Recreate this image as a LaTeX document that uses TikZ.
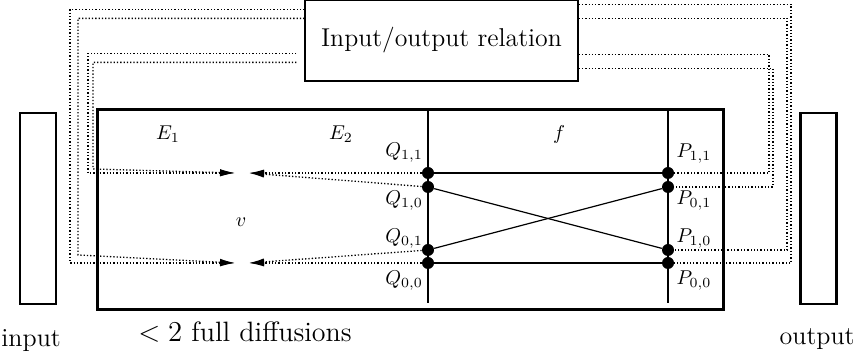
\documentclass[tikz,border=0pt]{standalone}
\usetikzlibrary{arrows.meta, positioning}

\begin{document}
\begin{tikzpicture}[
			x=0.5pt, y=-0.5pt,
			relbox/.style={
				rectangle,
				draw,
				line width=0.6pt,
				minimum width=136.5pt,
				minimum height=40.5pt,
				inner sep=0pt,
				font=\fontsize{12.9}{15}\selectfont
			},
			iobox/.style={
				rectangle,
				draw,
				line width=1.4pt,
				minimum width=18pt,
				minimum height=95.5pt
			},
			mainbox/.style={
				rectangle,
				draw,
				line width=1.5pt,
				minimum width=313pt,
				minimum height=100pt
			},
			pin/.style={
				circle,
				fill,
				inner sep=0pt,
				minimum size=6pt
			},
			lbl/.style={anchor=base},
			biglbl/.style={anchor=base, font=\fontsize{14}{17}\selectfont},
			iolbl/.style={inner sep=0pt, font=\fontsize{13}{16}\selectfont},
			wire/.style={line width=0.6pt},
			link/.style={densely dotted, line width=0.65pt},
			tip/.style={
				-{Latex[length=7.5pt, width=3.5pt]}
			}
			]
			
			\useasboundingbox (0,0) rectangle (856,356);
			
			% Boxes
			\node[relbox] (rel) at (441.5,40.5) {Input/output relation};
			\node[iobox] (inbox) at (38,208.5) {};
			\node[iobox] (outbox) at (818.5,208.5) {};
			\node[mainbox] (sys) at (410,210) {};
			
			% Q and P columns
			\draw[wire] (428,110) -- (428,303);
			\draw[wire] (668,110) -- (668,303);
			\node[pin] (q11) at (428,173) {};
			\node[pin] (q10) at (428,187) {};
			\node[pin] (q01) at (428,250) {};
			\node[pin] (q00) at (428,263) {};
			\node[pin] (p11) at (668,173) {};
			\node[pin] (p01) at (668,187) {};
			\node[pin] (p10) at (668,250) {};
			\node[pin] (p00) at (668,263) {};
			
			% Arrow tip meeting points
			\coordinate (tipL1) at (235,173);
			\coordinate (tipR1) at (249,173);
			\coordinate (tipL0) at (235,263);
			\coordinate (tipR0) at (249,263);
			
			% Labels
			\node[lbl] (e1) at (168,140) {$E_1$};
			\node[lbl] (e2) at (341,140) {$E_2$};
			\node[lbl] (fn) at (559,140) {$f$};
			\node[lbl] (vv) at (241,227) {$v$};
			\node[lbl] (lq11) at (404,157) {$Q_{1,1}$};
			\node[lbl] (lq10) at (404,205) {$Q_{1,0}$};
			\node[lbl] (lq01) at (404,243) {$Q_{0,1}$};
			\node[lbl] (lq00) at (404,285) {$Q_{0,0}$};
			\node[lbl] (lp11) at (694,158) {$P_{1,1}$};
			\node[lbl] (lp01) at (694,205) {$P_{0,1}$};
			\node[lbl] (lp10) at (694,243) {$P_{1,0}$};
			\node[lbl] (lp00) at (694,285) {$P_{0,0}$};
			\node[iolbl, anchor=base west] (inlbl) at (1,347) {input};
			\node[iolbl, anchor=base east] (outlbl) at (855,345) {output};
			\node[biglbl] (difflbl) at (245,342) {$<2$ full diffusions};
			
			% Function f
			\draw[wire] (q11) -- (p11);
			\draw[wire] (q10) -- (p10);
			\draw[wire] (q01) -- (p01);
			\draw[wire] (q00) -- (p00);
			
			% E2 backwards
			\draw[link, tip] (q11) -- (tipR1);
			\draw[link, tip] (q10) -- (tipR1);
			\draw[link, tip] (q01) -- (tipR0);
			\draw[link, tip] (q00) -- (tipR0);
			
			% Relation to the left side
			\draw[link, tip] ([yshift=-5pt]rel.north west) -| (70,263) -- (tipL0);
			\draw[link, tip] ([yshift=-9.5pt]rel.north west) -| (78,255) -- (tipL0);
			\draw[link, tip] ([xshift=-4pt, yshift=-27pt]rel.north west) -| (88,173) -- (tipL1);
			\draw[link, tip] ([xshift=-4pt, yshift=-31.5pt]rel.north west) -| (93,169) -- (tipL1);
			
			% Relation to the right side
			\draw[link] ([yshift=-2.5pt]rel.north east) -| (791,263) -- (p00);
			\draw[link] ([yshift=-9.5pt]rel.north east) -| (787,250) -- (p10);
			\draw[link] ([yshift=-27.5pt]rel.north east) -| (769,173) -- (p11);
			\draw[link] ([yshift=-34.5pt]rel.north east) -| (773,187) -- (p01);
			
		\end{tikzpicture}
\end{document}
